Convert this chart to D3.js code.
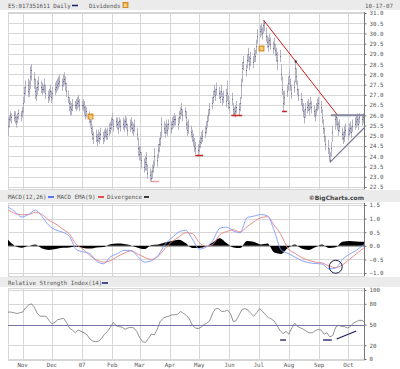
<!DOCTYPE html>
<html><head><meta charset="utf-8">
<script src="https://cdn.jsdelivr.net/npm/d3@7"></script>
<style>
body{margin:0;background:#fff}
svg{display:block}
text{font-family:"DejaVu Sans Mono",monospace;font-size:5.8px;fill:#555}
</style></head>
<body><svg id="c" width="400" height="369"></svg>
<script>
// ---------- DATA ----------
const chartTitle = "ES:017351611 Daily";
const chartDate = "10-17-07";
const startDate = "2006-10-17", endDate = "2007-10-17";
const priceClose = [
25.5,25.8,26.0,25.9,26.0, 25.9,25.7,25.9,26.1,26.0, 26.2,26.6,27.1,27.4,27.2, 27.5,27.3,27.9,28.2,27.8,
27.2,27.0,27.4,27.6,27.4, 27.3,27.3,27.5,27.1,26.9, 27.0,27.2,26.9,27.1,27.3, 27.4,27.5,27.6,27.7,27.5,
27.7,27.8,27.6,27.2,26.9, 26.6,26.4,26.3,26.5,26.5, 26.5,26.6,26.7,26.5,26.5, 26.5,26.4,26.0,26.2,25.9,
25.7,25.4,25.1,24.9,25.0, 24.8,25.0,24.9,25.1,24.9, 25.0,25.2,25.0,25.1,25.3, 25.4,25.6,25.8,25.5,25.7,
25.6,25.4,25.7,25.5,25.6, 25.5,25.7,25.6,25.3,25.5, 25.6,25.4,25.3,25.5,25.1, 24.4,24.1,24.2,23.8,23.5,
23.7,23.9,23.6,23.2,23.1, 22.95,23.3,23.5,24.0,23.8, 24.3,24.6,24.9,25.6,25.4, 25.2,25.5,25.3,25.6,25.4,
25.6,25.7,25.8,25.8,25.6, 25.9,26.1,26.3,26.0,26.2, 25.9,25.6,25.3,25.5,25.2, 25.0,24.8,24.5,24.4,24.3,
24.5,24.7,24.9,25.0,25.2, 25.4,25.7,26.0,26.3,26.6, 26.9,27.2,27.0,27.3,27.1, 26.9,27.2,26.8,26.9,27.0,
26.7,27.1,26.6,26.4,26.8, 26.3,26.1,26.2,26.4,26.3, 26.6,27.5,28.3,28.6,28.2, 28.7,29.0,28.5,28.8,28.6,
29.0,28.9,29.4,29.9,30.1, 30.2,30.0,30.4,30.5,29.9, 29.6,29.4,29.7,29.5,29.3, 29.5,29.2,29.0,28.7,28.9,
28.0,27.3,26.6,26.9,27.2, 27.6,27.9,27.5,27.1,27.4, 28.3,27.9,27.3,27.0,26.8, 26.5,26.2,25.9,26.3,26.4,
26.5,26.3,26.6,26.4,26.2, 26.0,26.3,26.5,26.6,26.4, 25.9,25.4,25.0,24.6,24.4, 24.0,23.8,24.4,25.2,25.8,
25.9,25.6,25.3,25.5,25.1, 24.9,25.2,25.0,25.3,25.1, 25.3,25.4,25.2,25.5,25.6, 25.7,25.8,25.6,25.9,25.8,
25.9,26.0];
const priceHigh = [
25.9,26.0,26.2,26.1,26.2, 26.2,26.0,26.1,26.3,26.2, 26.4,26.9,27.4,27.7,27.5, 27.8,27.7,28.4,28.5,28.1,
27.8,27.4,27.7,27.9,27.7, 27.6,27.5,27.8,27.5,27.2, 27.3,27.5,27.2,27.4,27.6, 27.7,27.8,27.9,28.0,27.8,
28.0,28.1,27.9,27.6,27.2, 26.9,26.7,26.6,26.8,26.7, 26.8,26.9,27.0,26.8,26.7, 26.8,26.7,26.5,26.4,26.2,
26.0,25.8,25.5,25.2,25.3, 25.1,25.3,25.2,25.4,25.2, 25.3,25.4,25.3,25.4,25.6, 25.7,25.9,26.1,25.8,25.9,
25.9,25.7,25.9,25.8,25.9, 25.8,26.0,25.9,25.6,25.8, 25.9,25.7,25.6,25.8,25.4, 24.9,24.5,24.5,24.2,23.9,
24.0,24.2,23.9,23.6,23.4, 23.3,23.6,23.8,24.4,24.1, 24.6,24.9,25.2,25.9,25.7, 25.6,25.8,25.6,25.8,25.7,
25.9,26.0,26.1,26.0,25.9, 26.2,26.4,26.6,26.3,26.4, 26.2,25.9,25.7,25.8,25.5, 25.3,25.1,24.9,24.7,24.6,
24.8,25.0,25.2,25.3,25.5, 25.7,26.0,26.3,26.6,26.9, 27.2,27.5,27.3,27.6,27.4, 27.2,27.5,27.1,27.2,27.3,
27.0,27.7,27.0,26.7,27.1, 26.6,26.4,26.5,26.7,26.6, 26.9,27.8,28.6,28.9,28.5, 29.0,29.3,28.9,29.1,28.9,
29.3,29.2,29.7,30.2,30.4, 30.5,30.3,30.6,30.65,30.3, 29.9,29.8,30.0,29.8,29.6, 29.8,29.5,29.3,29.1,29.2,
28.5,27.9,27.2,27.2,27.5, 27.9,28.2,27.8,27.5,27.7, 28.7,28.3,27.7,27.3,27.1, 26.8,26.6,26.3,26.6,26.7,
26.8,26.6,26.9,26.7,26.5, 26.3,26.6,26.8,26.9,26.7, 26.3,25.8,25.4,25.0,24.8, 24.4,24.2,24.7,25.5,26.05,
26.05,25.9,25.7,25.8,25.4, 25.2,25.5,25.3,25.6,25.4, 25.6,25.7,25.5,25.8,25.9, 26.0,26.1,25.9,26.1,26.05,
26.1,26.1];
const priceLow = [
25.0,25.4,25.7,25.6,25.7, 25.6,25.4,25.6,25.8,25.7, 25.9,26.1,26.6,27.0,26.9, 27.1,26.9,27.3,27.7,27.3,
26.8,26.7,27.0,27.2,27.1, 27.0,27.1,27.1,26.8,26.6, 26.7,26.9,26.6,26.8,27.0, 27.1,27.2,27.3,27.4,27.2,
27.4,27.5,27.2,26.9,26.6, 26.2,26.0,26.0,26.2,26.3, 26.2,26.3,26.4,26.2,26.3, 26.2,26.0,25.8,25.9,25.6,
25.4,25.1,24.8,24.6,24.7, 24.5,24.7,24.6,24.8,24.6, 24.7,24.9,24.8,24.8,25.0, 25.1,25.3,25.5,25.2,25.4,
25.3,25.1,25.4,25.2,25.3, 25.2,25.4,25.3,25.0,25.2, 25.3,25.1,25.0,25.2,24.8, 24.0,23.8,23.8,23.4,23.2,
23.3,23.6,23.3,22.9,22.8, 22.8,22.9,23.2,23.5,23.5, 23.9,24.2,24.5,24.9,25.1, 24.9,25.1,25.0,25.3,25.1,
25.3,25.4,25.5,25.5,25.3, 25.6,25.8,26.0,25.7,25.9, 25.6,25.3,25.0,25.1,24.9, 24.7,24.5,24.2,24.1,24.0,
24.2,24.4,24.6,24.7,24.9, 25.1,25.4,25.7,26.0,26.3, 26.6,26.9,26.7,27.0,26.8, 26.6,26.9,26.5,26.6,26.7,
26.4,26.7,26.3,26.1,26.5, 26.0,25.95,25.9,26.1,26.0, 26.2,26.8,27.6,28.2,27.9, 28.3,28.6,28.2,28.4,28.3,
28.6,28.6,29.0,29.5,29.8, 29.9,29.7,30.0,30.1,29.6, 29.3,29.1,29.4,29.2,29.0, 29.2,28.9,28.6,28.2,28.6,
27.7,27.0,26.2,26.5,26.9, 27.2,27.5,27.2,26.8,27.1, 27.6,27.5,27.0,26.7,26.5, 26.2,25.9,25.6,25.9,26.1,
26.2,26.0,26.3,26.1,25.9, 25.7,26.0,26.2,26.3,26.1, 25.6,25.1,24.7,24.3,24.1, 23.75,23.7,24.0,24.7,25.3,
25.5,25.3,25.0,25.2,24.8, 24.6,24.9,24.7,25.0,24.8, 25.0,25.1,24.9,25.2,25.3, 25.4,25.5,25.3,25.6,25.5,
25.6,25.7];
// MACD, weekly samples (start + 7 days each, last = end date)
const macdLine = [1.43,1.26,1.06,1.15,1.31,1.07,0.75,0.58,0.50,0.35,-0.14,-0.22,-0.29,-0.57,-0.66,-0.41,-0.29,-0.17,-0.17,-0.39,
-0.60,-0.55,-0.35,0.05,0.29,0.50,0.57,0.25,-0.12,-0.05,0.20,0.64,0.69,0.55,0.48,1.03,1.09,1.15,1.10,0.55,
-0.15,-0.28,-0.41,-0.54,-0.62,-0.65,-0.67,-0.85,-0.82,-0.50,-0.31,-0.17,0.02,0.04];
const macdSignal = [1.32,1.19,1.14,1.15,1.23,1.15,0.94,0.80,0.62,0.43,0.05,-0.12,-0.36,-0.52,-0.60,-0.55,-0.40,-0.27,-0.19,-0.30,
-0.42,-0.50,-0.38,-0.10,0.15,0.32,0.48,0.45,0.12,-0.02,0.05,0.40,0.52,0.59,0.51,0.70,0.88,1.03,1.07,0.75,
0.40,-0.10,-0.27,-0.43,-0.53,-0.60,-0.63,-0.74,-0.80,-0.70,-0.50,-0.30,-0.10,-0.07];
const macdDivergence = [0.22,0.0,-0.07,0.0,0.05,-0.10,-0.15,-0.12,-0.07,-0.06,-0.03,-0.08,-0.10,-0.06,-0.04,0.06,0.08,0.07,0.02,-0.07,
-0.12,0.03,0.05,0.12,0.18,0.22,0.10,-0.08,-0.08,-0.03,0.12,0.28,0.10,-0.06,-0.08,0.18,0.15,0.05,0.08,-0.25,
-0.30,-0.08,0.05,-0.10,-0.15,-0.05,0.05,-0.08,-0.05,0.15,0.18,0.16,0.15,0.15];
// RSI(14), samples every 3 days, last = end date
const rsiValues = [68,68,67,66,67,68,74,78,80,75,66,62,62,62,56,51,53,57,58,59,
53,45,42,38,42,40,38,35,29,26,25,26,30,36,40,46,53,48,47,46,
43,45,46,45,40,31,25,24,30,36,35,43,54,59,61,62,64,64,65,69,
66,63,58,49,45,44,46,50,52,56,67,73,73,69,69,71,66,54,56,64,
72,73,71,66,62,67,73,69,64,60,58,55,48,41,37,40,36,45,52,47,
45,43,40,38,38,41,43,42,36,38,32,34,46,49,47,47,45,47,52,54,
56,56,54];
const priceTicks = [31.0,30.5,30.0,29.5,29.0,28.5,28.0,27.5,27.0,26.5,26.0,25.5,25.0,24.5,24.0,23.5,23.0,22.5];
const macdTicks = [1.5,1.0,0.5,0.0,-0.5,-1.0];
const rsiTicks = [100,80,50,20,0];
const monthLabels = ["Nov","Dec","07","Feb","Mar","Apr","May","Jun","Jul","Aug","Sep","Oct"];
// annotations (date, value)
const resistanceLine = [["2007-07-06",30.65],["2007-09-20",26.0]];
const resistanceDot = ["2007-08-08",28.63];
const ceilingLine = [["2007-09-13",26.0],["2007-10-17",26.0]];
const supportLine = [["2007-09-12",23.7],["2007-10-17",25.38]];
const lowMarks = [["2007-03-12","2007-03-21",22.8,"#f0a0a0"],["2007-04-27","2007-05-05",24.06,"#cc2020"],
                  ["2007-06-03","2007-06-14",26.02,"#cc2020"],["2007-07-25","2007-07-30",26.21,"#cc2020"]];
const dividends = [["2007-01-10",25.92],["2007-07-04",29.29]];
const macdCircle = ["2007-09-18",-0.77];
const rsiMarks = [[["2007-07-23",27.5],["2007-07-29",27.5]],[["2007-09-05",27.5],["2007-09-14",27.5]],[["2007-09-19",29],["2007-10-09",40.6]]];

// ---------- DRAW ----------
const svg = d3.select("#c");
const parse = d3.timeParse("%Y-%m-%d");
const t0 = parse(startDate), t1 = parse(endDate);
const L = 8, R = 364;
const x = d3.scaleTime().domain([t0, t1]).range([L, R]);
const gridC = "#d6d6d6";

const tradingDays = [];
for (let d = new Date(t0); tradingDays.length < priceClose.length; d = d3.timeDay.offset(d, 1)) {
  const wd = d.getDay(); if (wd !== 0 && wd !== 6) tradingDays.push(new Date(d));
}
const weekDates = macdLine.map((_, i) => i < macdLine.length - 1 ? d3.timeDay.offset(t0, 7 * i) : t1);
const rsiDates = rsiValues.map((_, i) => i < rsiValues.length - 1 ? d3.timeDay.offset(t0, 3 * i) : t1);
const months = d3.timeMonth.range(d3.timeMonth.ceil(t0), t1);

// strips
[[0, 10], [190, 12], [277, 10]].forEach(([y, h]) =>
  svg.append("rect").attr("x", 0).attr("y", y).attr("width", 400).attr("height", h).attr("fill", "#ebebeb"));

function panel(top, bottom, y, ticks, fmt) {
  const g = svg.append("g");
  g.append("rect").attr("x", L + 0.5).attr("y", top + 0.5).attr("width", R - L).attr("height", bottom - top)
    .attr("fill", "#fff").attr("stroke", gridC);
  g.selectAll(".vg").data(months).join("line")
    .attr("x1", d => Math.round(x(d)) + 0.5).attr("x2", d => Math.round(x(d)) + 0.5)
    .attr("y1", top).attr("y2", bottom).attr("stroke", gridC);
  g.selectAll(".hg").data(ticks).join("line")
    .attr("x1", L).attr("x2", R).attr("y1", d => Math.round(y(d)) + 0.5).attr("y2", d => Math.round(y(d)) + 0.5)
    .attr("stroke", gridC);
  const ax = svg.append("g").attr("transform", `translate(${R + 0.5},0)`)
    .call(d3.axisRight(y).tickValues(ticks).tickFormat(fmt).tickSize(2).tickPadding(3));
  ax.select(".domain").attr("stroke", "#777").attr("d", `M0,${top}V${bottom}`);
  ax.selectAll(".tick line").attr("stroke", "#777");
  ax.selectAll("text").attr("fill", "#555").style("font-family", "DejaVu Sans Mono").style("font-size", "5.8px");
  return g;
}

// ---- price panel
const yP = d3.scaleLinear().domain([22.5, 31]).range([187, 13]);
const gP = panel(12, 189, yP, priceTicks, d3.format(".1f"));
gP.selectAll(".bar").data(tradingDays).join("line")
  .attr("x1", d => Math.round(x(d)) + 0.5).attr("x2", d => Math.round(x(d)) + 0.5)
  .attr("y1", (d, i) => yP(priceHigh[i])).attr("y2", (d, i) => yP(priceLow[i]))
  .attr("stroke", "#b2b2c4").attr("stroke-width", 1);
gP.selectAll(".cl").data(tradingDays).join("rect")
  .attr("x", d => Math.round(x(d))).attr("y", (d, i) => Math.round(yP(priceClose[i])))
  .attr("width", 1).attr("height", 1).attr("fill", "#70708e");
const seg = (g, pts, y, col, w) => g.append("line")
  .attr("x1", x(parse(pts[0][0]))).attr("y1", y(pts[0][1]))
  .attr("x2", x(parse(pts[1][0]))).attr("y2", y(pts[1][1]))
  .attr("stroke", col).attr("stroke-width", w);
seg(gP, resistanceLine, yP, "#cc1a1a", 1);
seg(gP, ceilingLine, yP, "#85859e", 2);
seg(gP, supportLine, yP, "#7a7a98", 1.2);
gP.append("rect").attr("x", x(parse(resistanceDot[0])) - 1).attr("y", yP(resistanceDot[1]) - 1)
  .attr("width", 2).attr("height", 2).attr("fill", "#333");
lowMarks.forEach(m => gP.append("line").attr("x1", x(parse(m[0]))).attr("x2", x(parse(m[1])))
  .attr("y1", Math.round(yP(m[2])) + 0.5).attr("y2", Math.round(yP(m[2])) + 0.5).attr("stroke", m[3]).attr("stroke-width", 1.5));
dividends.forEach(dv => {
  const cx = x(parse(dv[0])), cy = yP(dv[1]);
  gP.append("rect").attr("x", Math.round(cx - 2.5)).attr("y", Math.round(cy - 2.5)).attr("width", 5).attr("height", 5)
    .attr("fill", "#f3b040").attr("stroke", "#c87a10").attr("stroke-width", 0.8);
  gP.append("text").attr("x", Math.round(cx)).attr("y", Math.round(cy) + 1.6).attr("text-anchor", "middle")
    .style("font-size", "4px").style("fill", "#fff").text("D");
});

// ---- MACD panel
const yM = d3.scaleLinear().domain([-1, 1.5]).range([273, 205]);
const gM = panel(203, 276, yM, macdTicks, d3.format(".1f"));
gM.append("line").attr("x1", L).attr("x2", R).attr("y1", Math.round(yM(0)) + 0.5).attr("y2", Math.round(yM(0)) + 0.5).attr("stroke", "#aaa");
gM.append("path").datum(macdDivergence)
  .attr("d", d3.area().x((d, i) => x(weekDates[i])).y0(yM(0)).y1(d => yM(d)).curve(d3.curveMonotoneX))
  .attr("fill", "#000");
gM.append("path").datum(macdSignal)
  .attr("d", d3.line().x((d, i) => x(weekDates[i])).y(d => yM(d)).curve(d3.curveMonotoneX))
  .attr("fill", "none").attr("stroke", "#e58080").attr("stroke-width", 0.9);
gM.append("path").datum(macdLine)
  .attr("d", d3.line().x((d, i) => x(weekDates[i])).y(d => yM(d)).curve(d3.curveMonotoneX))
  .attr("fill", "none").attr("stroke", "#7c98ff").attr("stroke-width", 0.9);
gM.append("circle").attr("cx", x(parse(macdCircle[0]))).attr("cy", yM(macdCircle[1])).attr("r", 6.5)
  .attr("fill", "none").attr("stroke", "#1a1a50").attr("stroke-width", 1);

// ---- RSI panel
const yR = d3.scaleLinear().domain([0, 100]).range([359, 290]);
const gR = panel(288, 360, yR, rsiTicks, d3.format("d"));
gR.append("line").attr("x1", L).attr("x2", R).attr("y1", Math.round(yR(50)) + 0.5).attr("y2", Math.round(yR(50)) + 0.5)
  .attr("stroke", "#7676a6").attr("stroke-width", 1);
gR.append("path").datum(rsiValues)
  .attr("d", d3.line().x((d, i) => x(rsiDates[i])).y(d => yR(d)))
  .attr("fill", "none").attr("stroke", "#777").attr("stroke-width", 0.8);
rsiMarks.forEach(m => seg(gR, m, yR, "#1a1a60", 1.3));

// month labels
svg.selectAll(".ml").data(months).join("text")
  .attr("x", d => x(d)).attr("y", 366.5).attr("text-anchor", "middle")
  .text((d, i) => monthLabels[i]);

// legends / titles
const txt = (s, xx, yy, anchor, extra) => { const t = svg.append("text").attr("x", xx).attr("y", yy).attr("text-anchor", anchor || "start").text(s); if (extra) extra(t); return t; };
const dash = (x1, x2, yy, col) => svg.append("line").attr("x1", x1).attr("x2", x2).attr("y1", yy).attr("y2", yy).attr("stroke", col).attr("stroke-width", 1.5);
txt(chartTitle, 8, 7.5);
dash(72, 78, 5.5, "#1a1a6e");
txt("Dividends", 89, 7.5);
svg.append("rect").attr("x", 123).attr("y", 2.5).attr("width", 5).attr("height", 5).attr("fill", "#f3b040").attr("stroke", "#c87a10").attr("stroke-width", 0.8);
svg.append("text").attr("x", 125.5).attr("y", 6.6).attr("text-anchor", "middle").style("font-size", "4px").style("fill", "#fff").text("D");
txt(chartDate, 365, 7.5);

txt("MACD(12,26)", 8, 199);
dash(48, 54, 197, "#2a50ff");
txt("MACD EMA(9)", 57, 199);
dash(98, 104, 197, "#dd2020");
txt("Divergence", 107, 199);
dash(144, 149, 197, "#000");
txt("\u00A9BigCharts.com", 364, 199.5, "end", t => t.style("font-weight", "bold").style("fill", "#444").style("font-family", "DejaVu Sans").style("font-size", "6px"));

txt("Relative Strength Index(14)", 8, 285);
dash(102, 108, 283, "#1a1a6e");
</script></body></html>
